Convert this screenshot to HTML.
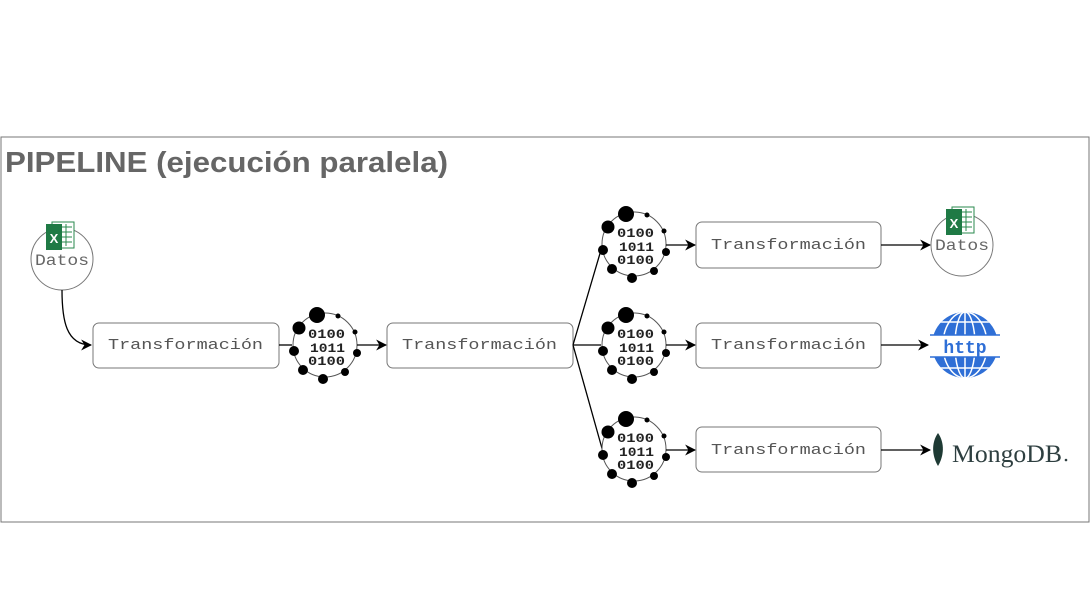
<!DOCTYPE html>
<html><head><meta charset="utf-8"><style>
html,body{margin:0;padding:0;background:#fff;width:1090px;height:613px;overflow:hidden}
</style></head><body>
<svg width="1090" height="613" viewBox="0 0 1090 613" xmlns="http://www.w3.org/2000/svg">
<defs>
<marker id="ar" viewBox="0 0 10 10" refX="9" refY="5" markerWidth="11" markerHeight="11" orient="auto" markerUnits="userSpaceOnUse">
<path d="M0,0 L10,5 L0,10 L3,5 Z" fill="#000"/></marker>
<g id="bin">
<circle cx="0" cy="0" r="32" fill="#fff" stroke="#555" stroke-width="1"/>
<circle cx="-8" cy="-30" r="8" fill="#000"/>
<circle cx="-26" cy="-17" r="6.5" fill="#000"/>
<circle cx="-31" cy="6" r="5" fill="#000"/>
<circle cx="-22" cy="25" r="5" fill="#000"/>
<circle cx="-2" cy="34" r="5" fill="#000"/>
<circle cx="20" cy="27" r="4" fill="#000"/>
<circle cx="32" cy="8" r="4" fill="#000"/>
<circle cx="30" cy="-13" r="2.5" fill="#000"/>
<circle cx="13" cy="-29" r="2.5" fill="#000"/>
<g font-family="Liberation Mono, monospace" font-size="13" font-weight="bold" fill="#222">
<text x="-17" y="-7" textLength="37" lengthAdjust="spacingAndGlyphs">0100</text>
<text x="-15" y="7" textLength="35" lengthAdjust="spacingAndGlyphs">1011</text>
<text x="-17" y="20" textLength="37" lengthAdjust="spacingAndGlyphs">0100</text>
</g>
</g>
<g id="xl">
<rect x="6" y="0" width="22" height="26" fill="#fff" stroke="#2a8a4e" stroke-width="1"/>
<path d="M14,5h12M14,10h12M14,15h12M14,20h12M20,2v22" stroke="#2a8a4e" stroke-width="1"/>
<rect x="0" y="2" width="16" height="26" fill="#1f7a45"/>
<text x="8" y="21" font-family="Liberation Sans, sans-serif" font-weight="bold" font-size="13" fill="#fff" text-anchor="middle">X</text>
</g>
</defs>
<rect x="1" y="137" width="1088" height="385" fill="#fff" stroke="#777" stroke-width="1"/>
<text x="5" y="172" font-family="Liberation Sans, sans-serif" font-weight="bold" font-size="29" fill="#666" textLength="443" lengthAdjust="spacingAndGlyphs">PIPELINE (ejecución paralela)</text>

<!-- left datos -->
<circle cx="62" cy="259" r="31" fill="#fff" stroke="#777"/>
<use href="#xl" x="46" y="222"/>
<text x="35" y="265" font-family="Liberation Mono, monospace" font-size="16" fill="#666" textLength="54" lengthAdjust="spacingAndGlyphs">Datos</text>
<path d="M62,290 C62,320 66,345 91,345" fill="none" stroke="#000" stroke-width="1.3" marker-end="url(#ar)"/>

<g font-family="Liberation Mono, monospace" font-size="15" fill="#555">
<rect x="93" y="323" width="186" height="45" rx="6" fill="#fff" stroke="#777"/>
<text x="108" y="349" textLength="155" lengthAdjust="spacingAndGlyphs">Transformación</text>
<rect x="387" y="323" width="186" height="45" rx="6" fill="#fff" stroke="#777"/>
<text x="402" y="349" textLength="155" lengthAdjust="spacingAndGlyphs">Transformación</text>
<rect x="696" y="222" width="185" height="46" rx="6" fill="#fff" stroke="#777"/>
<text x="711" y="249" textLength="155" lengthAdjust="spacingAndGlyphs">Transformación</text>
<rect x="696" y="323" width="185" height="45" rx="6" fill="#fff" stroke="#777"/>
<text x="711" y="349" textLength="155" lengthAdjust="spacingAndGlyphs">Transformación</text>
<rect x="696" y="427" width="185" height="45" rx="6" fill="#fff" stroke="#777"/>
<text x="711" y="454" textLength="155" lengthAdjust="spacingAndGlyphs">Transformación</text>
</g>

<line x1="279" y1="345" x2="292" y2="345" stroke="#000" stroke-width="1.3"/>
<use href="#bin" x="325" y="345"/>
<line x1="357" y1="345" x2="386" y2="345" stroke="#000" stroke-width="1.3" marker-end="url(#ar)"/>

<path d="M573,345 L601,250 M573,345 L601,345 M573,345 L603,452" stroke="#000" stroke-width="1.3" fill="none"/>
<use href="#bin" x="634" y="244"/>
<use href="#bin" x="634" y="345"/>
<use href="#bin" x="634" y="449"/>
<line x1="666" y1="245" x2="695" y2="245" stroke="#000" stroke-width="1.3" marker-end="url(#ar)"/>
<line x1="666" y1="345" x2="695" y2="345" stroke="#000" stroke-width="1.3" marker-end="url(#ar)"/>
<line x1="666" y1="450" x2="695" y2="450" stroke="#000" stroke-width="1.3" marker-end="url(#ar)"/>

<line x1="881" y1="245" x2="930" y2="245" stroke="#000" stroke-width="1.3" marker-end="url(#ar)"/>
<line x1="881" y1="345" x2="928" y2="345" stroke="#000" stroke-width="1.3" marker-end="url(#ar)"/>
<line x1="881" y1="450" x2="930" y2="450" stroke="#000" stroke-width="1.3" marker-end="url(#ar)"/>

<!-- right datos -->
<circle cx="962" cy="245" r="31" fill="#fff" stroke="#777"/>
<use href="#xl" x="946" y="207"/>
<text x="935" y="250" font-family="Liberation Mono, monospace" font-size="16" fill="#666" textLength="54" lengthAdjust="spacingAndGlyphs">Datos</text>

<!-- globe -->
<g>
<clipPath id="gc"><circle cx="965" cy="345" r="33"/></clipPath>
<g clip-path="url(#gc)">
<rect x="930" y="311" width="70" height="24" fill="#2f6fd6"/>
<rect x="930" y="357" width="70" height="24" fill="#2f6fd6"/>
<g stroke="#fff" stroke-width="1.5" fill="none">
<ellipse cx="965" cy="345" rx="10" ry="33"/><ellipse cx="965" cy="345" rx="22" ry="33"/>
<line x1="965" y1="310" x2="965" y2="380"/>
<line x1="930" y1="322" x2="1000" y2="322"/><line x1="930" y1="368" x2="1000" y2="368"/>
</g>
</g>
<line x1="930" y1="335" x2="1000" y2="335" stroke="#2f6fd6" stroke-width="1.5"/>
<line x1="930" y1="357" x2="1000" y2="357" stroke="#2f6fd6" stroke-width="1.5"/>
<text x="965" y="353" font-family="Liberation Mono, monospace" font-weight="bold" font-size="18" fill="#2f6fd6" text-anchor="middle">http</text>
</g>

<!-- mongo -->
<path d="M938,433 C931,443 932,456 938,466 C944,456 945,443 938,433 Z" fill="#1e3a34"/>
<text x="952" y="462" font-family="Liberation Serif, serif" font-size="25" fill="#2e3f40" textLength="110" lengthAdjust="spacingAndGlyphs">MongoDB</text>
<circle cx="1066" cy="460" r="1.3" fill="#2e3f40"/>
</svg>
</body></html>
